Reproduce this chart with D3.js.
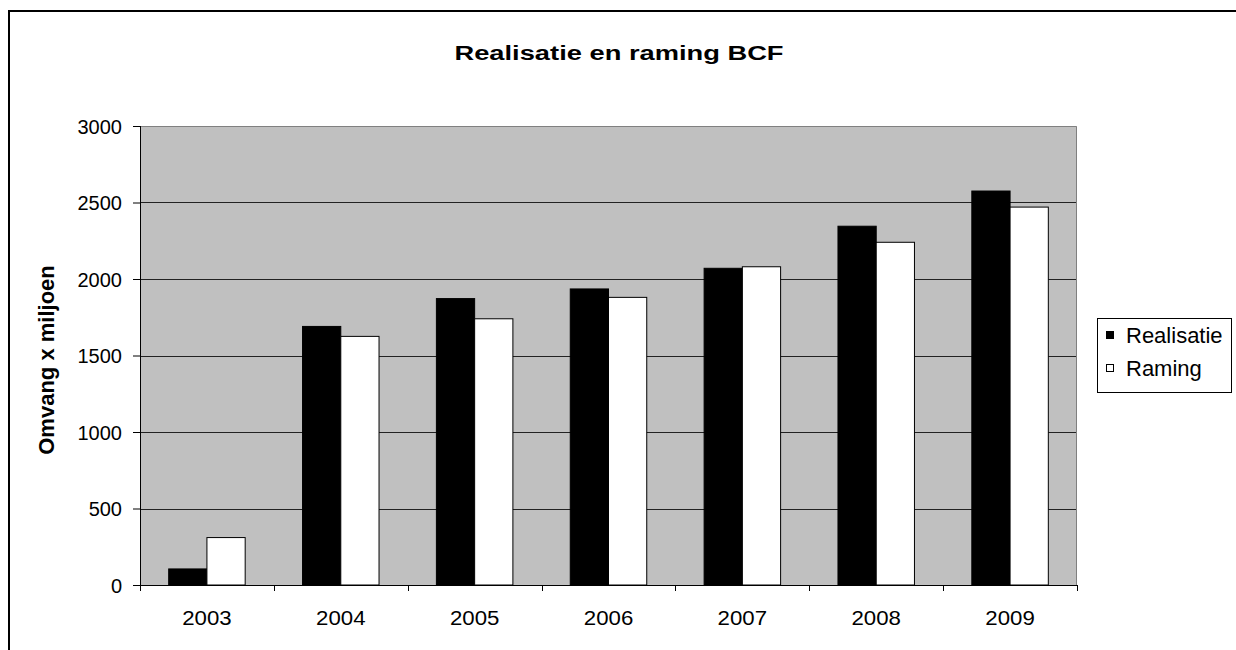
<!DOCTYPE html>
<html>
<head>
<meta charset="utf-8">
<script src="https://cdn.jsdelivr.net/npm/d3@7"></script>
<style>
  body { margin: 0; background: #fff; }
  svg { display: block; font-family: Arial, "Liberation Sans", sans-serif; }
</style>
</head>
<body>
<div id="chart"></div>
<script>
const years = ["2003", "2004", "2005", "2006", "2007", "2008", "2009"];
const realisatie = [105, 1690, 1872, 1935, 2070, 2345, 2575];
const raming = [310, 1625, 1740, 1880, 2080, 2240, 2470];
const seriesNames = ["Realisatie", "Raming"];
const seriesColors = ["#000000", "#ffffff"];
const yTicks = [0, 500, 1000, 1500, 2000, 2500, 3000];

const W = 1236, H = 650;
const MARGIN = {TOP: 126, BOTTOM: 65, LEFT: 140, RIGHT: 159};
const WIDTH = W - MARGIN.LEFT - MARGIN.RIGHT;
const HEIGHT = H - MARGIN.TOP - MARGIN.BOTTOM;
const FONT = "Arial, 'Liberation Sans', sans-serif";

const svg = d3.select("#chart").append("svg")
    .attr("width", W)
    .attr("height", H);

// outer chart frame, runs off the right and bottom edges
svg.append("rect")
    .attr("x", 9).attr("y", 11)
    .attr("width", W + 100).attr("height", H + 100)
    .attr("fill", "none")
    .attr("stroke", "#000")
    .attr("stroke-width", 2);

// title (text in the source is stretched wide)
svg.append("text")
    .attr("transform", "translate(619, 60) scale(1.3, 1)")
    .attr("text-anchor", "middle")
    .attr("font-size", 21)
    .attr("font-weight", "bold")
    .text("Realisatie en raming BCF");

const g = svg.append("g")
    .attr("transform", `translate(${MARGIN.LEFT}, ${MARGIN.TOP})`);

const x = d3.scaleBand()
    .domain(years)
    .range([0, WIDTH]);
// Excel style: gap width 150%
const barW = x.bandwidth() / 3.5;
const x1 = d3.scaleBand()
    .domain(seriesNames)
    .range([barW * 0.75, barW * 2.75]);

const y = d3.scaleLinear()
    .domain([0, 3000])
    .range([HEIGHT, 0]);

// plot area
g.append("rect")
    .attr("width", WIDTH).attr("height", HEIGHT)
    .attr("fill", "#c0c0c0");

// gridlines
g.selectAll(".grid")
    .data(yTicks.slice(1, -1))
    .enter().append("line")
    .attr("x1", 0).attr("x2", WIDTH)
    .attr("y1", d => Math.round(y(d)) + 0.5)
    .attr("y2", d => Math.round(y(d)) + 0.5)
    .attr("stroke", "#222")
    .attr("stroke-width", 1);

// top and right plot border
g.append("path")
    .attr("d", `M0,0.5H${WIDTH - 0.5}V${HEIGHT}`)
    .attr("fill", "none")
    .attr("stroke", "#808080")
    .attr("stroke-width", 1);

// bars
const data = years.map((yr, i) => ({year: yr, values: [realisatie[i], raming[i]]}));
const groups = g.selectAll(".grp")
    .data(data)
    .enter().append("g")
    .attr("transform", d => `translate(${x(d.year)},0)`);
groups.selectAll("rect")
    .data(d => d.values.map((v, j) => ({name: seriesNames[j], value: v, color: seriesColors[j]})))
    .enter().append("rect")
    .attr("x", d => x1(d.name))
    .attr("y", d => y(d.value))
    .attr("width", barW)
    .attr("height", d => HEIGHT - y(d.value))
    .attr("fill", d => d.color)
    .attr("stroke", "#000")
    .attr("stroke-width", 1);

// axes
const yAxis = g.append("g")
    .call(d3.axisLeft(y).tickValues(yTicks).tickFormat(d3.format("d")).tickSize(7).tickPadding(11));
yAxis.selectAll("text")
    .attr("font-size", 20)
    .attr("fill", "#000")
    .attr("font-family", FONT)
    .attr("dy", "0.36em");
yAxis.select(".domain").attr("d", `M0.5,0V${HEIGHT}`).attr("stroke", "#000");
yAxis.selectAll(".tick line").attr("stroke", "#000");

const xAxis = g.append("g")
    .attr("transform", `translate(0, ${HEIGHT})`)
    .call(d3.axisBottom(x).tickSize(0).tickPadding(25));
xAxis.selectAll("text")
    .attr("font-size", 21)
    .attr("fill", "#000")
    .attr("font-family", FONT)
    .attr("transform", "scale(1.06, 1)");
xAxis.select(".domain").attr("d", `M0,0.5H${WIDTH}`).attr("stroke", "#000");
xAxis.selectAll(".sep")
    .data(years.concat(["end"]))
    .enter().append("line")
    .attr("x1", (d, i) => Math.round(i * x.step()) + 0.5)
    .attr("x2", (d, i) => Math.round(i * x.step()) + 0.5)
    .attr("y1", 0).attr("y2", 6)
    .attr("stroke", "#000");

// y axis label
svg.append("text")
    .attr("transform", "translate(54, 360) rotate(-90)")
    .attr("text-anchor", "middle")
    .attr("font-size", 22)
    .attr("font-weight", "bold")
    .text("Omvang x miljoen");

// legend
const legend = svg.append("g").attr("transform", "translate(1097, 318)");
legend.append("rect")
    .attr("x", 0.5).attr("y", 0.5)
    .attr("width", 134).attr("height", 74)
    .attr("fill", "#fff")
    .attr("stroke", "#000");
seriesNames.forEach((name, i) => {
    const row = legend.append("g").attr("transform", `translate(9, ${17 + i * 33})`);
    row.append("rect")
        .attr("x", 0.5).attr("y", -3.5)
        .attr("width", 7).attr("height", 7)
        .attr("fill", seriesColors[i])
        .attr("stroke", "#000");
    row.append("text")
        .attr("x", 20).attr("y", 8)
        .attr("font-size", 22)
        .text(name);
});
</script>
</body>
</html>
